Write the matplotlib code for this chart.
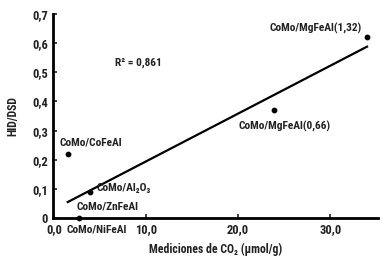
import matplotlib
matplotlib.use("Agg")
import matplotlib.pyplot as plt

fam = ['Roboto Condensed', 'DejaVu Sans']

co2 = [1.5, 3.9, 2.7, 23.9, 34.0]
hid_dsd = [0.22, 0.09, 0.0, 0.37, 0.62]
fit_x = [1.5, 34.0]
fit_y = [0.055, 0.588]
labels = ["CoMo/CoFeAl", "CoMo/Al\u2082O\u2083", "CoMo/ZnFeAl", "CoMo/NiFeAl",
          "CoMo/MgFeAl(0,66)", "CoMo/MgFeAl(1,32)"]
label_pos = [(0.65, 0.258, 'left'), (4.6, 0.103, 'left'), (2.4, 0.041, 'left'),
             (1.4, -0.038, 'left'), (20.0, 0.313, 'left'), (33.4, 0.65, 'right')]
xticks = [0, 10, 20, 30]
xtick_labels = ["0,0", "10,0", "20,0", "30,0"]
yticks = [0, 0.1, 0.2, 0.3, 0.4, 0.5, 0.6, 0.7]
ytick_labels = ["0", "0,1", "0,2", "0,3", "0,4", "0,5", "0,6", "0,7"]

plt.rcParams['font.family'] = fam
plt.rcParams['font.weight'] = 'bold'
plt.rcParams['axes.labelweight'] = 'bold'
fig = plt.figure(figsize=(3.87, 2.59), dpi=100)
ax = fig.add_axes([0.137, 0.158, 0.84, 0.788])
ax.scatter(co2, hid_dsd, s=10, color='black', zorder=3, clip_on=False)
ax.plot(fit_x, fit_y, color='black', lw=1.6)
for t, (x, y, ha) in zip(labels, label_pos):
    ax.text(x, y, t, fontsize=8.2, ha=ha, va='center', color='#222222')
ax.text(6.6, 0.533, "R\u00b2 = 0,861", fontsize=8.2, ha='left', va='center', color='#222222')
ax.set_xlim(-0.1, 35.2)
ax.set_ylim(0, 0.7)
ax.set_xticks(xticks)
ax.set_xticklabels(xtick_labels)
ax.set_yticks(yticks)
ax.set_yticklabels(ytick_labels)
for s in ['top', 'right']:
    ax.spines[s].set_visible(False)
for s in ['left', 'bottom']:
    ax.spines[s].set_linewidth(2)
ax.tick_params(axis='both', direction='in', length=3, width=1.2, labelsize=9, colors='#222222')
ax.set_xlabel("Mediciones de CO\u2082 (\u00b5mol/g)", fontsize=8.5, labelpad=5, color='#222222')
ax.set_ylabel("HID/DSD", fontsize=8.5, labelpad=9, color='#222222')
fig.savefig("out.png", dpi=100)
